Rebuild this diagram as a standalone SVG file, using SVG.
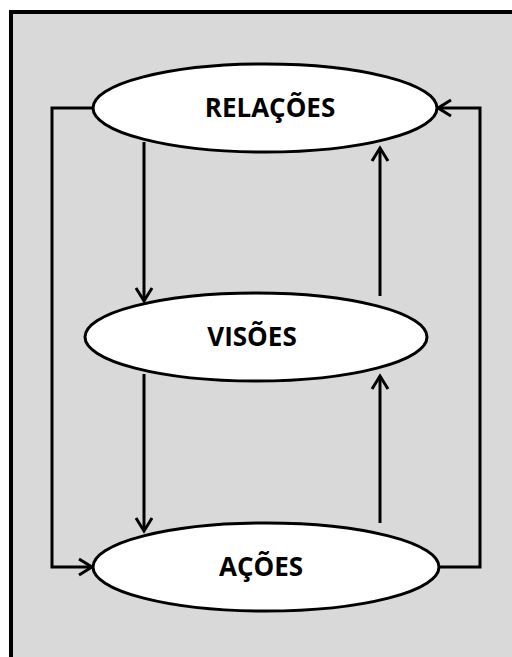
<svg xmlns="http://www.w3.org/2000/svg" width="512" height="657" viewBox="0 0 512 657">
<defs>
<style>
.node{fill:#ffffff;stroke:#000000;stroke-width:3}
.lbl{font-family:"Open Sans","Liberation Sans",sans-serif;font-weight:bold;font-size:26px;fill:#000000;text-anchor:middle}
.con{fill:none;stroke:#000000;stroke-width:3}
</style>
<marker id="arr" viewBox="0 0 20 20" refX="17" refY="10" markerWidth="20" markerHeight="20" markerUnits="userSpaceOnUse" orient="auto">
<path d="M4,2 L17,10 L4,18" fill="none" stroke="#000000" stroke-width="3"/>
</marker>
</defs>
<rect x="0" y="0" width="512" height="657" fill="#ffffff"/>
<rect x="11" y="12" width="700" height="700" fill="#d9d9d9" stroke="#000000" stroke-width="4"/>
<g id="connectors">
<path class="con" d="M93,108 H52 V567 H92" marker-end="url(#arr)"/>
<path class="con" d="M440,567 H480 V108 H438" marker-end="url(#arr)"/>
<path class="con" d="M144,142 V301" marker-end="url(#arr)"/>
<path class="con" d="M144,374 V531" marker-end="url(#arr)"/>
<path class="con" d="M380,296 V148" marker-end="url(#arr)"/>
<path class="con" d="M380,523 V376" marker-end="url(#arr)"/>
</g>
<g id="relacoes">
<ellipse class="node" cx="265" cy="108" rx="172" ry="44"/>
<text class="lbl" x="270" y="117">RELAÇÕES</text>
</g>
<g id="visoes">
<ellipse class="node" cx="256" cy="337" rx="171" ry="44"/>
<text class="lbl" x="252" y="346">VISÕES</text>
</g>
<g id="acoes">
<ellipse class="node" cx="266" cy="567" rx="173" ry="44"/>
<text class="lbl" x="261" y="576">AÇÕES</text>
</g>
</svg>
